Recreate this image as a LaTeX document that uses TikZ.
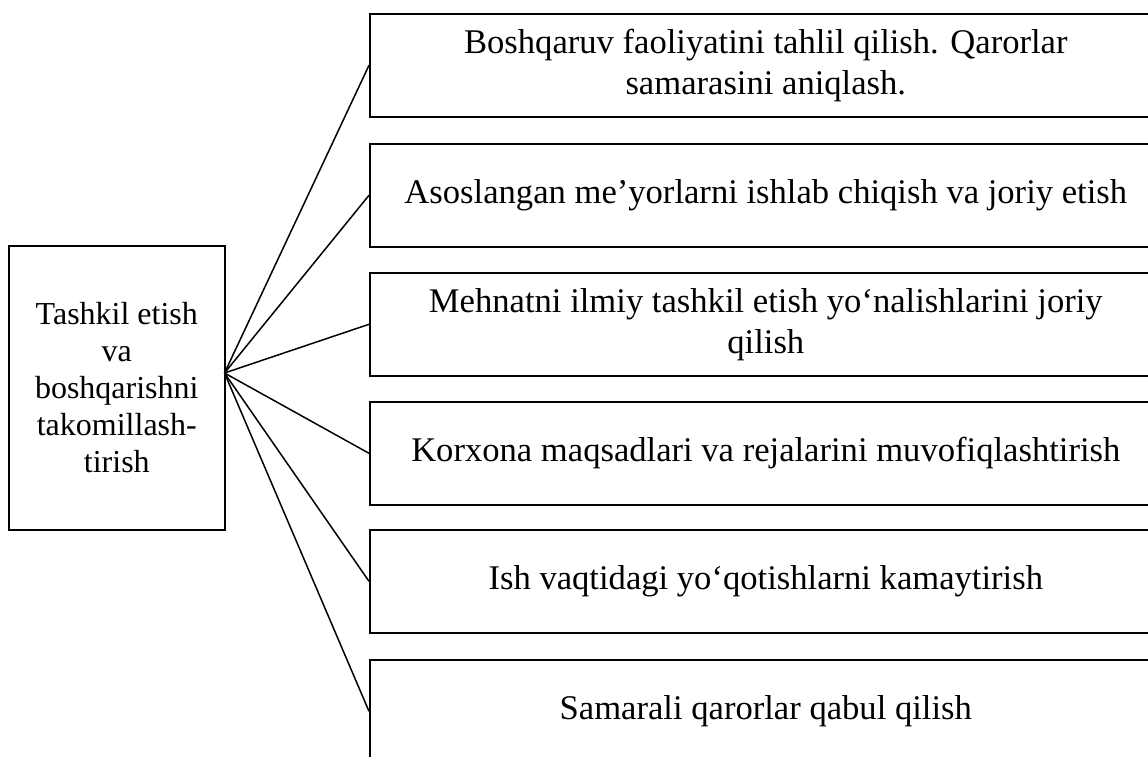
\documentclass[tikz,border=0pt]{standalone}
\usepackage{fontspec}
\setmainfont{Liberation Serif}
\begin{document}
\begin{tikzpicture}[x=1pt,y=-1pt,
  box/.style={draw, line width=1.6pt, inner sep=0pt, align=center,
    anchor=north west, minimum width=792, minimum height=103,
    font=\fontsize{34.6}{41}\selectfont},
  mainbox/.style={draw, line width=1.6pt, inner sep=0pt, align=center,
    anchor=north west, minimum width=216, minimum height=284,
    font=\fontsize{32}{37}\selectfont},
  link/.style={line width=1.5pt}]
\useasboundingbox (0,0) rectangle (1148,756);
\begin{scope}
\clip (0,0) rectangle (1148,756);
% central box
\node[mainbox] (main) at (8,245)
  {Tashkil etish\\va\\boshqarishni\\takomillash-\\tirish};
% list of measures
\node[box] (b1) at (369,13)
  {Boshqaruv faoliyatini tahlil qilish. Qarorlar\\samarasini aniqlash.};
\node[box] (b2) at (369,143)
  {Asoslangan me’yorlarni ishlab chiqish va joriy etish};
\node[box] (b3) at (369,272)
  {Mehnatni ilmiy tashkil etish yo‘nalishlarini joriy\\qilish};
\node[box] (b4) at (369,401)
  {Korxona maqsadlari va rejalarini muvofiqlashtirish};
\node[box] (b5) at (369,529)
  {Ish vaqtidagi yo‘qotishlarni kamaytirish};
\node[box] (b6) at (369,659)
  {Samarali qarorlar qabul qilish};
% fan of connectors
\coordinate (hub) at (224.5,373);
\foreach \b in {b1,b2,b3,b4,b5,b6}
  \draw[link] (hub) -- (\b.west);
\end{scope}
\end{tikzpicture}
\end{document}
